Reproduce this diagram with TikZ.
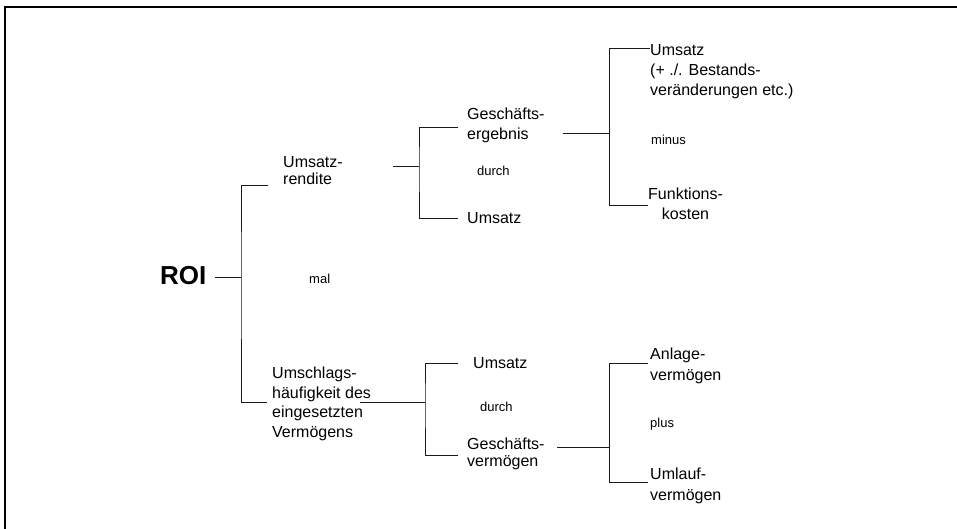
\documentclass[tikz,border=0pt]{standalone}
\usepackage{fontspec}
\setmainfont{Liberation Sans}
\begin{document}
\begin{tikzpicture}[x=1pt,y=-1pt,
  txt/.style={font=\fontsize{16}{20}\selectfont, inner sep=0pt, anchor=north west, align=left},
  sm/.style={font=\fontsize{13}{15}\selectfont, inner sep=0pt, anchor=base west},
  conn/.style={draw=black!90, line width=1pt},
  frame/.style={draw=black, line width=2.2pt}]
\useasboundingbox (0,0) rectangle (957,528);
\draw[frame] (5,530) -- (5,7) -- (960,7);

% nodes
\node[font=\fontsize{26}{30}\selectfont\bfseries, inner sep=0pt, anchor=west] (roi) at (160,276) {ROI};
\node[txt, font=\fontsize{16}{17}\selectfont] (ur) at (283,156) {Umsatz-\\rendite};
\node[sm] (mal) at (309,283) {mal};
\node[txt] (ge) at (467,108) {Geschäfts-\\ergebnis};
\node[sm] (d1) at (477,175) {durch};
\node[txt] (u1) at (467,212) {Umsatz};
\node[txt] (u2) at (650,44) {Umsatz\\(+ ./. Bestands-\\veränderungen etc.)};
\node[sm] (minus) at (651,144) {minus};
\node[txt, align=center] (fk) at (648,188) {Funktions-\\kosten};
\node[txt, font=\fontsize{16}{19.5}\selectfont] (uh) at (272,367) {Umschlags-\\häufigkeit des\\eingesetzten\\Vermögens};
\node[txt] (u3) at (473,357) {Umsatz};
\node[sm] (d2) at (480,411) {durch};
\node[txt, font=\fontsize{16}{17}\selectfont] (gv) at (467,438) {Geschäfts-\\vermögen};
\node[txt, font=\fontsize{16}{21}\selectfont] (av) at (650,348) {Anlage-\\vermögen};
\node[sm] (plus) at (650,427) {plus};
\node[txt, font=\fontsize{16}{21}\selectfont] (uv) at (650,468) {Umlauf-\\vermögen};

% connector coordinates
\coordinate (roiout) at (215,277);
\coordinate (j1) at (241,277);
\coordinate (urin) at (268,185);
\coordinate (uhin) at (267,402);

\coordinate (urout) at (393,166);
\coordinate (j2) at (419,166);
\coordinate (gein) at (458,127);
\coordinate (u1in) at (458,218);

\coordinate (geout) at (563,133);
\coordinate (j3) at (609,133);
\coordinate (u2in) at (650,48);
\coordinate (fkin) at (648,205);

\coordinate (uhout) at (360,402);
\coordinate (j4) at (425,402);
\coordinate (u3in) at (458,363);
\coordinate (gvin) at (458,455);

\coordinate (gvout) at (557,447);
\coordinate (j5) at (609,447);
\coordinate (avin) at (648,363);
\coordinate (uvin) at (648,482);

% connectors
\draw[conn] (roiout) -- (j1);
\draw[conn] (urin) -| (j1) |- (uhin);
\draw[conn] (urout) -- (j2);
\draw[conn] (gein) -| (j2) |- (u1in);
\draw[conn] (geout) -- (j3);
\draw[conn] (u2in) -| (j3) |- (fkin);
\draw[conn] (uhout) -- (j4);
\draw[conn] (u3in) -| (j4) |- (gvin);
\draw[conn] (gvout) -- (j5);
\draw[conn] (avin) -| (j5) |- (uvin);
\end{tikzpicture}
\end{document}
